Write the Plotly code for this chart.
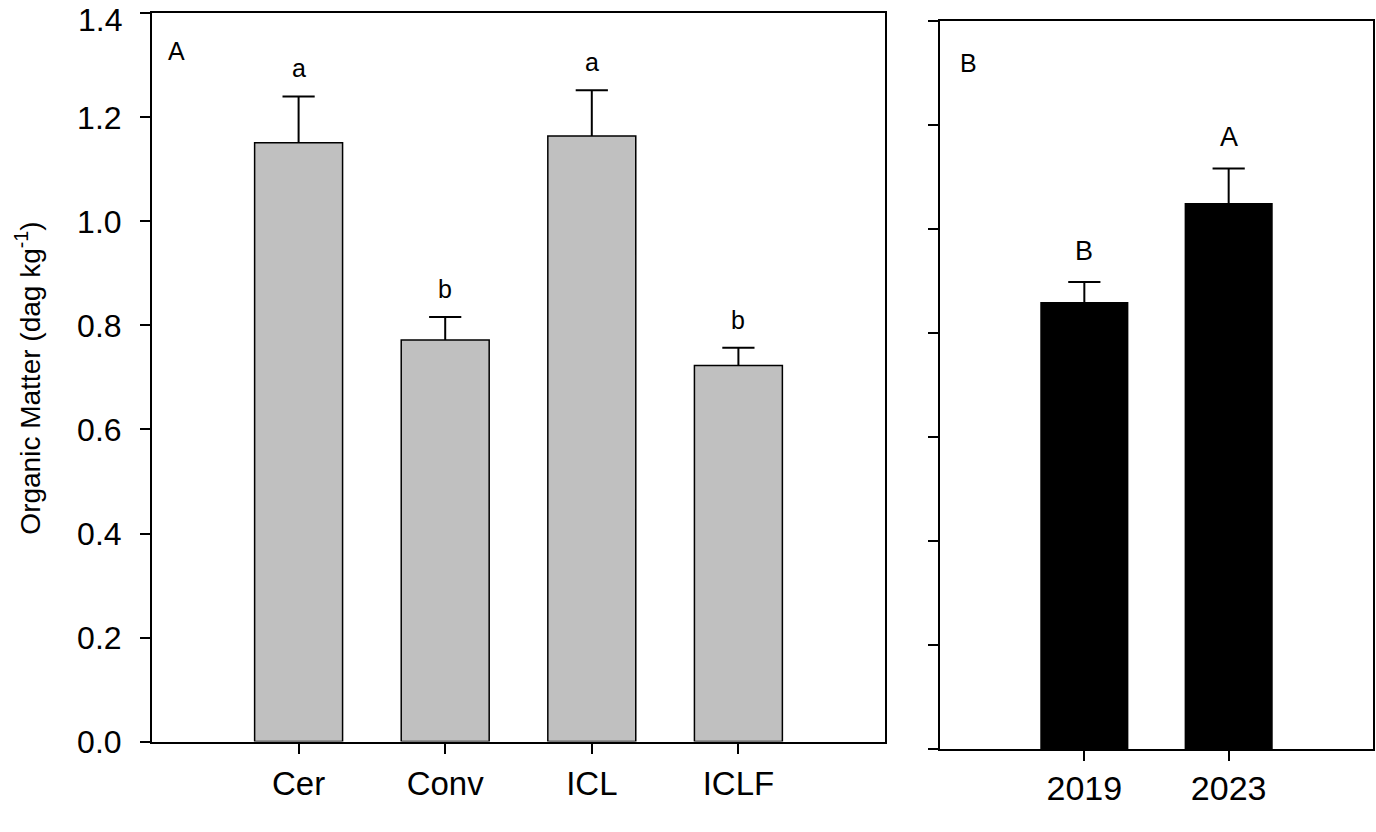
import plotly.graph_objects as go

# panel A - management systems
systems = ["Cer", "Conv", "ICL", "ICLF"]
om_systems = [1.151, 0.772, 1.164, 0.723]
err_systems = [0.089, 0.044, 0.088, 0.034]
letters_systems = ["a", "b", "a", "b"]

# panel B - sampling years
years = ["2019", "2023"]
om_years = [0.858, 1.048]
err_years = [0.040, 0.068]
letters_years = ["B", "A"]

y_ticks = [0.0, 0.2, 0.4, 0.6, 0.8, 1.0, 1.2, 1.4]

W, H = 1376, 832
font = "Liberation Sans, Arial, sans-serif"

fig = go.Figure()


def add_panel(cats, vals, errs, color, xa, ya):
    xs = list(range(len(cats)))
    fig.add_trace(go.Bar(
        x=xs, y=vals, width=0.6,
        marker=dict(color=color, line=dict(color="black", width=1.5)),
        xaxis=xa, yaxis=ya, showlegend=False, hoverinfo="skip",
    ))
    # upper error bar only: stem down to the bar top, cap drawn as a marker
    tops = [v + e for v, e in zip(vals, errs)]
    fig.add_trace(go.Scatter(
        x=xs, y=tops, mode="markers",
        marker=dict(symbol="line-ew", size=23, color="black",
                    line=dict(color="black", width=2)),
        error_y=dict(type="data", symmetric=False, array=[0] * len(errs),
                     arrayminus=errs, color="black", thickness=2, width=0),
        xaxis=xa, yaxis=ya, showlegend=False,
    ))


add_panel(systems, om_systems, err_systems, "#c0c0c0", "x", "y")
add_panel(years, om_years, err_years, "black", "x2", "y2")

axis_common = dict(showline=True, linecolor="black", linewidth=2, mirror=True,
                   ticks="outside", ticklen=10, tickwidth=1.5, tickcolor="black",
                   showgrid=False, zeroline=False)

# the top label would poke out above the page, so it is drawn as an annotation
y_ticktext = ["%.1f" % v for v in y_ticks[:-1]] + [""]

fig.update_layout(
    width=W, height=H,
    margin=dict(l=0, r=0, t=0, b=0),
    paper_bgcolor="white", plot_bgcolor="white",
    font=dict(family=font, color="black"),
    xaxis=dict(axis_common, domain=[152 / W, 885 / W], range=[-1, len(systems)],
               tickvals=list(range(len(systems))), ticktext=systems,
               tickfont=dict(size=33), ticklabelstandoff=2, anchor="y"),
    yaxis=dict(axis_common, domain=[1 - 758 / H, 1 - 13.5 / H], range=[0, 1.4001],
               tickvals=y_ticks, ticktext=y_ticktext,
               tickfont=dict(size=32), ticklabelstandoff=12, anchor="x"),
    xaxis2=dict(axis_common, domain=[940 / W, 1373 / W], range=[-1, len(years)],
                tickvals=list(range(len(years))), ticktext=years,
                tickfont=dict(size=34), ticklabelstandoff=-2, anchor="y2"),
    yaxis2=dict(axis_common, domain=[1 - 766 / H, 1 - 21 / H], range=[0, 1.4001],
                tickvals=y_ticks, showticklabels=False, anchor="x2"),
)

annotations = []
for i, (v, e, t) in enumerate(zip(om_systems, err_systems, letters_systems)):
    annotations.append(dict(x=i, y=v + e, xref="x", yref="y", text=t, showarrow=False,
                            xanchor="center", yanchor="middle", yshift=28,
                            font=dict(size=25)))
for i, (v, e, t) in enumerate(zip(om_years, err_years, letters_years)):
    annotations.append(dict(x=i, y=v + e, xref="x2", yref="y2", text=t, showarrow=False,
                            xanchor="center", yanchor="middle", yshift=31,
                            font=dict(size=27)))

annotations.append(dict(x=124 / W, y=1, xref="paper", yref="paper",
                        text="%.1f" % y_ticks[-1], showarrow=False,
                        xanchor="right", yanchor="top", font=dict(size=32)))
annotations.append(dict(x=176 / W, y=1 - 52 / H, xref="paper", yref="paper", text="A",
                        showarrow=False, xanchor="center", yanchor="middle",
                        font=dict(size=25)))
annotations.append(dict(x=968 / W, y=1 - 64 / H, xref="paper", yref="paper", text="B",
                        showarrow=False, xanchor="center", yanchor="middle",
                        font=dict(size=25)))
annotations.append(dict(x=28 / W, y=1 - 387 / H, xref="paper", yref="paper",
                        text="Organic Matter (dag kg<sup>-1</sup>)", textangle=-90,
                        showarrow=False, xanchor="center", yanchor="middle",
                        font=dict(size=28)))

fig.update_layout(annotations=annotations)

# no page margin and no stray line box, so the figure fills the window exactly
fig.write_html("out.html",
               config={"displayModeBar": False},
               post_script="document.body.style.margin='0';"
                           "document.body.style.lineHeight='0';"
                           "document.body.style.fontSize='0';")
